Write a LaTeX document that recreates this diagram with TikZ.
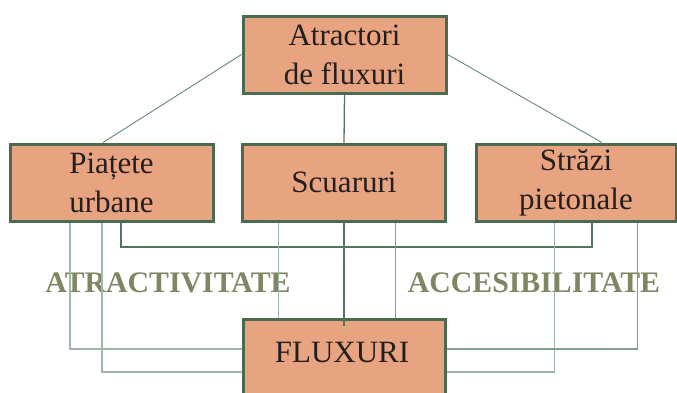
\documentclass[tikz,border=0pt]{standalone}
\usepackage{fontspec}
\setmainfont{Liberation Serif}
\definecolor{boxfill}{RGB}{232,164,128}
\definecolor{boxline}{RGB}{74,107,80}
\definecolor{darkln}{RGB}{80,118,96}
\definecolor{lightln}{RGB}{160,182,166}
\definecolor{lbl}{RGB}{128,133,98}
\definecolor{txt}{RGB}{35,31,32}
\tikzset{
  boxnode/.style={draw=boxline, line width=3pt, fill=boxfill, rectangle, minimum width=203pt, minimum height=77pt, inner sep=0pt, align=center, text=txt, font=\fontsize{31}{39}\selectfont},
  bigword/.style={text=lbl, font=\fontsize{29.8}{34}\selectfont\bfseries, inner sep=0pt},
  darkline/.style={draw=darkln, line width=1.3pt},
  lightline/.style={draw=lightln, line width=1.2pt},
}
\begin{document}
\begin{tikzpicture}[x=1pt,y=-1pt]
\useasboundingbox (0,0) rectangle (677,392);
\clip (0,0) rectangle (677,392);
% boxes
\node[boxnode] (top) at (344.5,54.5) {Atractori\\de fluxuri};
\node[boxnode] (left) at (111.5,182.5) {Piațete\\urbane};
\node[boxnode] (mid) at (344,182.5) {Scuaruri};
\node[boxnode, minimum width=200pt] (right) at (576,182.5) {Străzi\\pietonale};
\node[boxnode, minimum width=202pt, minimum height=120pt] (flux) at (344,379) {};
\node[text=txt, font=\fontsize{31}{39}\selectfont, inner sep=0pt] (fluxtxt) at (342,352) {FLUXURI};
% labels
\node[bigword] (atr) at (168,283) {ATRACTIVITATE};
\node[bigword] (acc) at (534,283) {ACCESIBILITATE};
% connectors from top
\draw[lightline, line width=1pt, draw=darkln!80] (top.west) -- (left.north -| 103,0);
\draw[lightline, line width=1pt, draw=darkln!80] (top.east) -- (right.north -| 602,0);
\draw[darkline] (top.south) -- (mid.north);
% dark bracket
\coordinate (bl) at (121,247);
\coordinate (br) at (592,247);
\draw[darkline] (left.south -| bl) -- (bl) -- (br) -- (right.south -| br);
% middle vertical
\coordinate (fin) at (344,326);
\draw[darkline, line width=1.5pt] (mid.south) -- (fin);
% light connectors to FLUXURI
\draw[lightline] (left.south -| 70,0) |- (flux.west |- 0,349);
\draw[lightline] (left.south -| 102,0) |- (flux.west |- 0,372);
\draw[lightline] (mid.south -| 278.5,0) -- (flux.north -| 278.5,0);
\draw[lightline, draw=darkln!70] (mid.south -| 395.5,0) -- (flux.north -| 395.5,0);
\draw[lightline] (right.south -| 554.5,0) |- (flux.east |- 0,372);
\draw[lightline, draw=darkln!70] (right.south -| 637.5,0) |- (flux.east |- 0,349);
\end{tikzpicture}
\end{document}
